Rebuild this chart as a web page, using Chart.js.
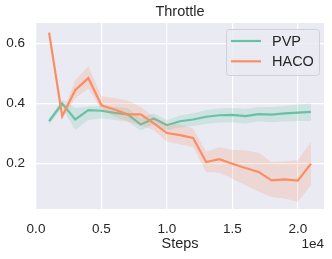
<!DOCTYPE html>
<html>
<head>
<meta charset="utf-8">
<script src="https://cdn.jsdelivr.net/npm/chart.js@4.4.0/dist/chart.umd.min.js"></script>
<style>
  html, body { margin: 0; padding: 0; background: #ffffff; }
  #wrap { width: 332px; height: 259px; }
</style>
</head>
<body>
<div id="wrap"><canvas id="c" width="332" height="259"></canvas></div>
<script>
const steps = [1000, 2000, 3000, 4000, 5000, 6000, 7000, 8000, 9000, 10000, 11000,
               12000, 13000, 14000, 15000, 16000, 17000, 18000, 19000, 20000, 21000];

const pvpMean = [0.341, 0.400, 0.347, 0.378, 0.376, 0.369, 0.364, 0.330, 0.350, 0.328, 0.341,
                 0.347, 0.356, 0.361, 0.362, 0.358, 0.365, 0.363, 0.367, 0.370, 0.372];
const pvpLow  = [0.331, 0.385, 0.311, 0.345, 0.350, 0.345, 0.340, 0.310, 0.330, 0.310, 0.320,
                 0.325, 0.332, 0.337, 0.338, 0.334, 0.340, 0.338, 0.340, 0.342, 0.342];
const pvpHigh = [0.351, 0.412, 0.385, 0.390, 0.392, 0.388, 0.385, 0.352, 0.368, 0.345, 0.360,
                 0.368, 0.378, 0.383, 0.385, 0.382, 0.388, 0.388, 0.392, 0.397, 0.400];

const hacoMean = [0.635, 0.358, 0.445, 0.484, 0.394, 0.380, 0.364, 0.364, 0.334, 0.302, 0.295,
                  0.286, 0.206, 0.215, 0.200, 0.186, 0.173, 0.145, 0.148, 0.144, 0.200];
const hacoLow  = [0.630, 0.348, 0.417, 0.450, 0.378, 0.356, 0.340, 0.328, 0.311, 0.273, 0.265,
                  0.256, 0.173, 0.170, 0.150, 0.129, 0.107, 0.090, 0.085, 0.074, 0.129];
const hacoHigh = [0.640, 0.368, 0.477, 0.524, 0.424, 0.417, 0.410, 0.389, 0.356, 0.335, 0.330,
                  0.317, 0.240, 0.256, 0.246, 0.245, 0.237, 0.206, 0.208, 0.212, 0.273];

const xTicks = [0, 5000, 10000, 15000, 20000];
const yTicks = [0.2, 0.4, 0.6];

const FONT = "'Liberation Sans', Arial, sans-serif";
const GREEN = '#66c2a5';
const ORANGE = '#fc8d62';

const pts = arr => arr.map((v, i) => ({ x: steps[i], y: v }));

function band(arr, color, order) {
    return { data: pts(arr), borderWidth: 0, pointRadius: 0, fill: false,
             backgroundColor: color, order: order, band: true };
}

const bgPlugin = {
    id: 'bg',
    beforeDraw(chart) {
        const a = chart.chartArea, ctx = chart.ctx;
        ctx.save();
        ctx.fillStyle = '#eaeaf2';
        ctx.fillRect(a.left, a.top, a.right - a.left, a.bottom - a.top);
        ctx.restore();
    },
    afterDraw(chart) {
        const a = chart.chartArea, ctx = chart.ctx;
        ctx.save();
        // title
        ctx.fillStyle = '#262626';
        ctx.font = '14.5px ' + FONT;
        ctx.textAlign = 'center';
        ctx.textBaseline = 'middle';
        ctx.fillText('Throttle', (a.left + a.right) / 2, 12);
        // offset text
        ctx.font = '13.5px ' + FONT;
        ctx.textAlign = 'right';
        ctx.fillText('1e4', a.right, 244);

        // legend
        const bx = 226, by = 29, bw = 93, bh = 46;
        ctx.beginPath();
        ctx.roundRect(bx + 0.5, by + 0.5, bw, bh, 3);
        ctx.fillStyle = 'rgba(234,234,242,0.8)';
        ctx.fill();
        ctx.strokeStyle = '#d0d0d6';
        ctx.lineWidth = 1;
        ctx.stroke();
        const items = chart.data.datasets.filter(d => !d.band);
        items.forEach((d, i) => {
            const y = 41 + i * 20.3;
            ctx.beginPath();
            ctx.moveTo(231, y);
            ctx.lineTo(261, y);
            ctx.strokeStyle = d.borderColor;
            ctx.lineWidth = 2.2;
            ctx.stroke();
            ctx.fillStyle = '#262626';
            ctx.font = '14.5px ' + FONT;
            ctx.textAlign = 'left';
            ctx.textBaseline = 'middle';
            ctx.fillText(d.label, 272, y + 1);
        });
        ctx.restore();
    }
};

new Chart(document.getElementById('c'), {
    type: 'line',
    data: {
        datasets: [
            band(pvpLow, 'rgba(102,194,165,0.2)', 5),
            Object.assign(band(pvpHigh, 'rgba(102,194,165,0.2)', 4), { fill: '-1' }),
            { label: 'PVP', data: pts(pvpMean), borderColor: GREEN, borderWidth: 2.2,
              pointRadius: 0, fill: false, order: 3 },
            band(hacoLow, 'rgba(252,141,98,0.2)', 2),
            Object.assign(band(hacoHigh, 'rgba(252,141,98,0.2)', 1), { fill: '-1' }),
            { label: 'HACO', data: pts(hacoMean), borderColor: ORANGE, borderWidth: 2.2,
              pointRadius: 0, fill: false, order: 0 }
        ]
    },
    options: {
        responsive: false,
        animation: false,
        layout: { padding: { top: 23, right: 8, left: 0, bottom: 0 } },
        plugins: {
            legend: { display: false },
            tooltip: { enabled: false },
            filler: { drawTime: 'beforeDatasetDraw' }
        },
        scales: {
            x: {
                type: 'linear',
                min: 0,
                max: 22000,
                afterBuildTicks: s => { s.ticks = xTicks.map(v => ({ value: v })); },
                afterFit: s => { s.height = 50; },
                grid: { color: '#ffffff', lineWidth: 1.2, drawTicks: false },
                border: { display: false },
                ticks: {
                    padding: 12,
                    color: '#262626',
                    font: { family: FONT, size: 13.5 },
                    maxRotation: 0,
                    callback: v => (v / 10000).toFixed(1)
                },
                title: {
                    display: true,
                    text: 'Steps',
                    color: '#262626',
                    font: { family: FONT, size: 14.5 },
                    padding: { top: 0, bottom: 6 }
                }
            },
            y: {
                min: 0.05,
                max: 0.667,
                afterBuildTicks: s => { s.ticks = yTicks.map(v => ({ value: v })); },
                afterFit: s => { s.width = 36; },
                grid: { color: '#ffffff', lineWidth: 1.2, drawTicks: false },
                border: { display: false },
                ticks: {
                    padding: 11,
                    color: '#262626',
                    font: { family: FONT, size: 13.5 },
                    callback: v => v.toFixed(1)
                }
            }
        }
    },
    plugins: [bgPlugin]
});
</script>
</body>
</html>
